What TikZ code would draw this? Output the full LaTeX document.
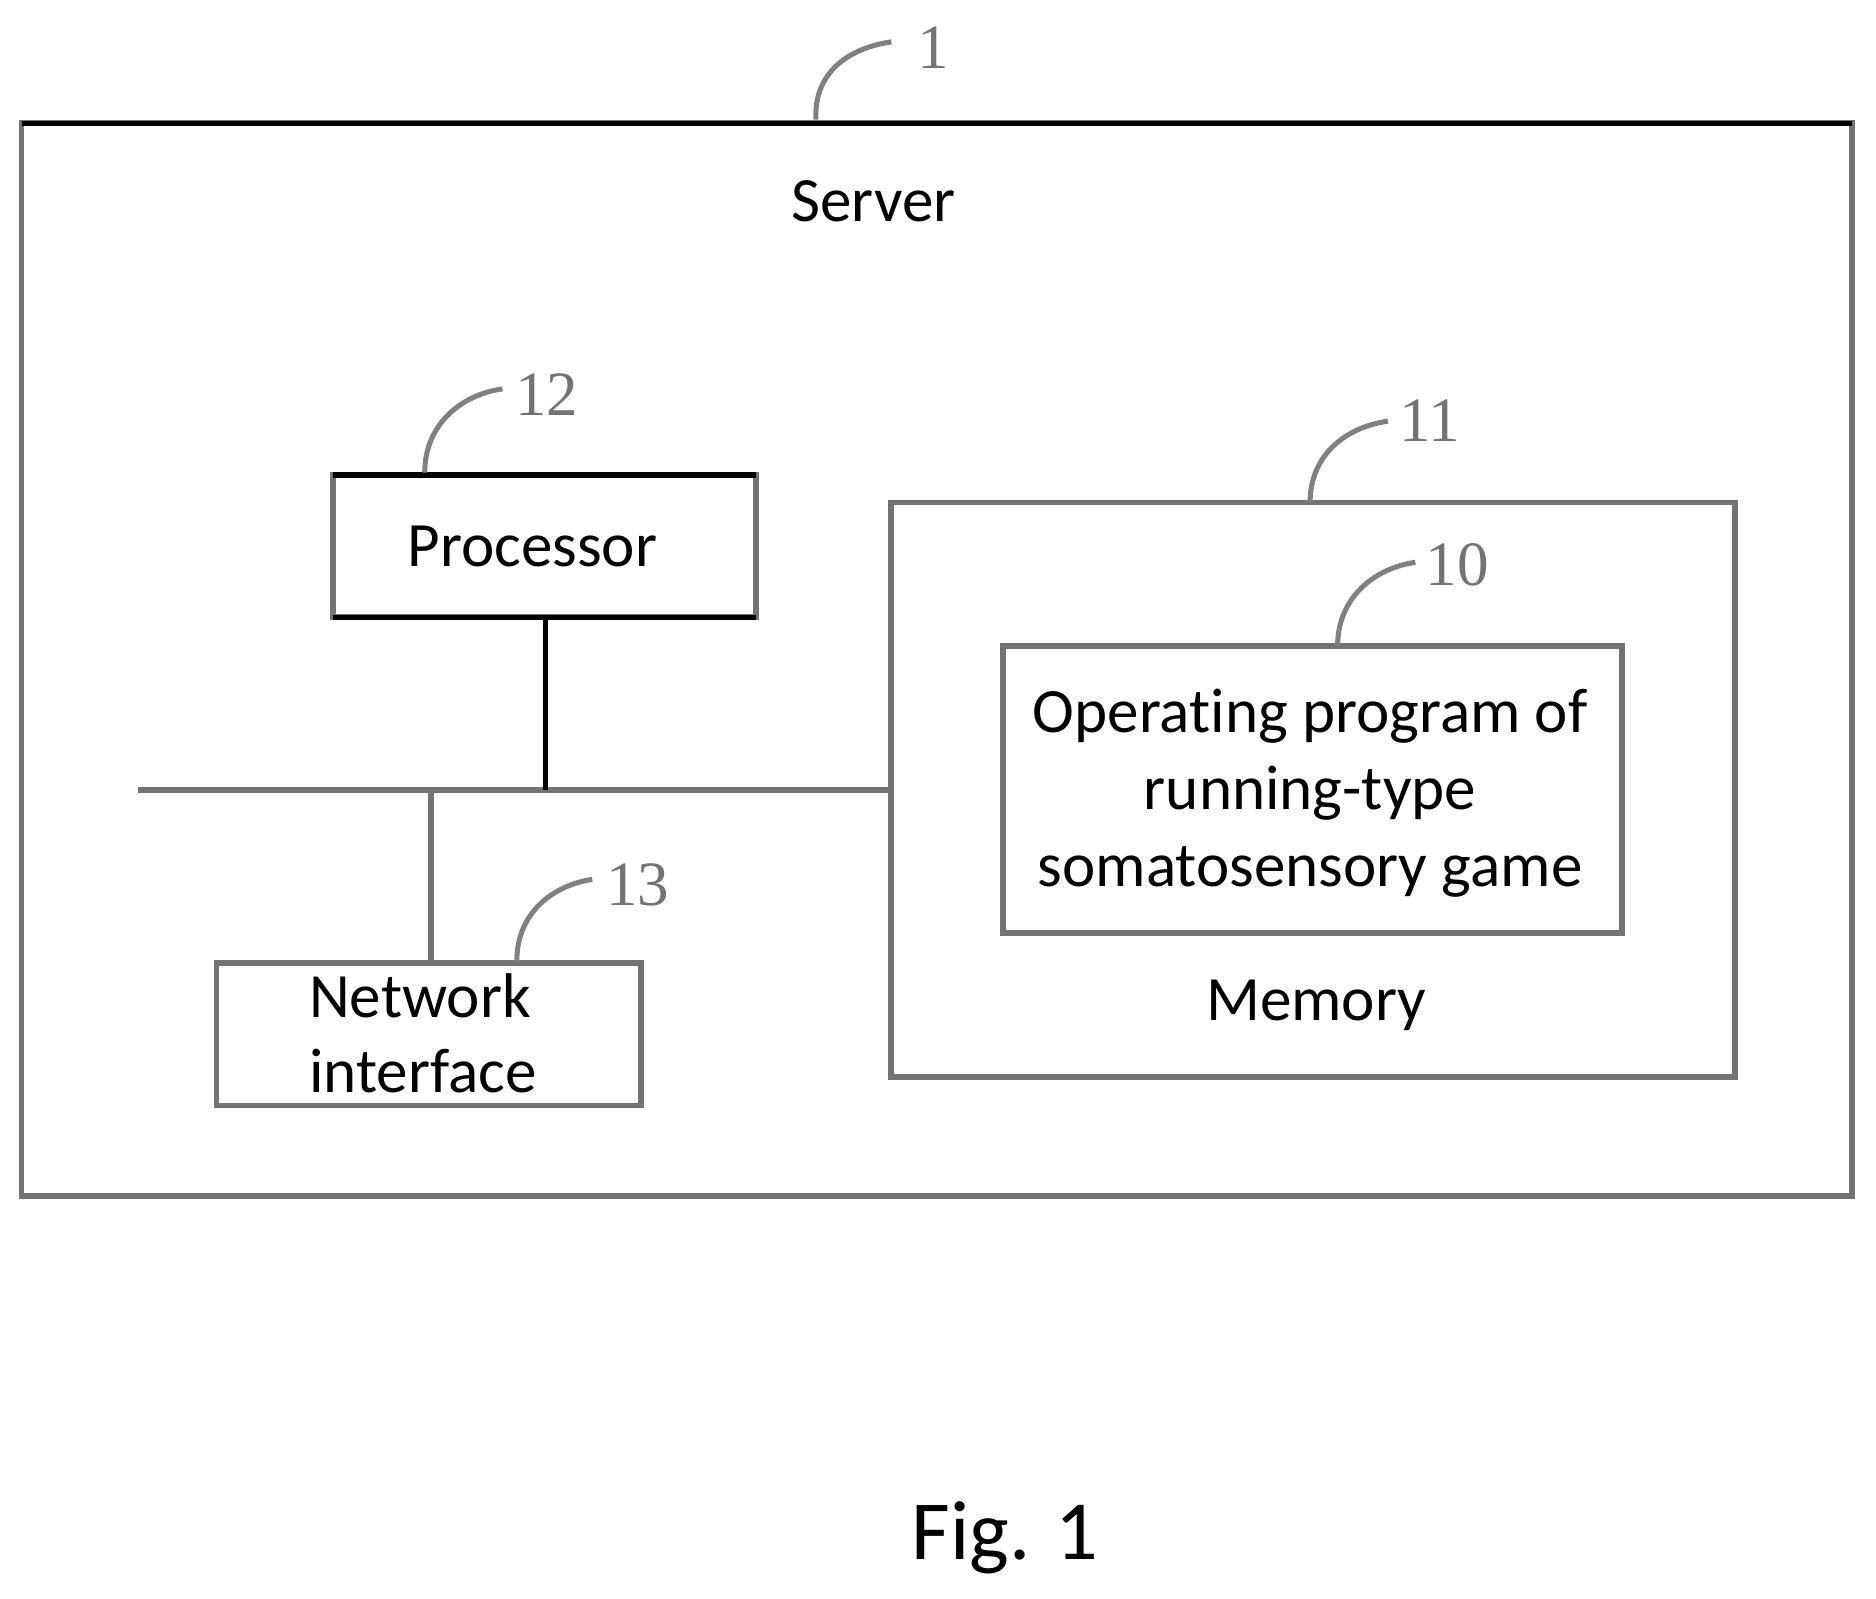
\documentclass[tikz,border=0pt]{standalone}
\usepackage{fontspec}
\setmainfont[Ligatures={NoCommon,NoRare,NoContextual}]{Carlito}
\newfontfamily\numfont{Liberation Serif}
\begin{document}
\begin{tikzpicture}[x=0.01cm,y=-0.01cm,
  box/.style={draw=black!55,line width=1.4pt},
  lbl/.style={font=\fontsize{15}{18}\selectfont},
  num/.style={font=\numfont\fontsize{15}{18}\selectfont,text=black!55},
  lead/.style={draw=black!50,line width=1.2pt}]
\useasboundingbox (0,0) rectangle (1568,1336);
\draw[box] (18,103) rectangle (1548,1000);
\draw[black,line width=1.3pt] (18,103) -- (1548,103);
\node[lbl] (server) at (730,168) {Server};
\draw[box] (278,397) rectangle (632,516);
\draw[black,line width=1.3pt] (278,397) -- (632,397) (278,516) -- (632,516);
\node[lbl] (proc) at (445,457) {Processor};
\draw[box] (745,420) rectangle (1450,900);
\node[lbl] (mem) at (1100,840) {Memory};
\draw[box] (838,540) rectangle (1356,780);
\node[lbl,align=center,font=\fontsize{15}{18.3}\selectfont] (prog) at (1095,663) {Operating program of\\running-type\\somatosensory game};
\draw[box] (181,805) rectangle (536,924);
\node[lbl,align=left,anchor=west,font=\fontsize{15}{17.8}\selectfont] (net) at (246,864) {Network\\interface};
\coordinate (busL) at (115,660);
\coordinate (busR) at (745,660);
\coordinate (pj) at (456,660);
\coordinate (nj) at (360,660);
\draw[box] (busL) -- (busR);
\draw[black,line width=1.3pt] (456,516) -- (pj);
\draw[box] (nj) -- (360,805);
\node[num] (n1) at (780,40) {1};
\draw[lead] (682,100) .. controls (680,60) and (710,40) .. (745,35);
\node[num] (n12) at (457,330) {12};
\draw[lead] (355,395) .. controls (355,355) and (385,330) .. (420,325);
\node[num] (n11) at (1195,352) {11};
\draw[lead] (1095,420) .. controls (1095,380) and (1125,357) .. (1160,352);
\node[num] (n10) at (1218,472) {10};
\draw[lead] (1118,540) .. controls (1118,500) and (1148,475) .. (1183,470);
\node[num] (n13) at (533,740) {13};
\draw[lead] (432,803) .. controls (432,763) and (462,740) .. (495,735);
\node[font=\fontsize{20}{24}\selectfont] (fig) at (840,1285) {Fig. 1};
\end{tikzpicture}
\end{document}
